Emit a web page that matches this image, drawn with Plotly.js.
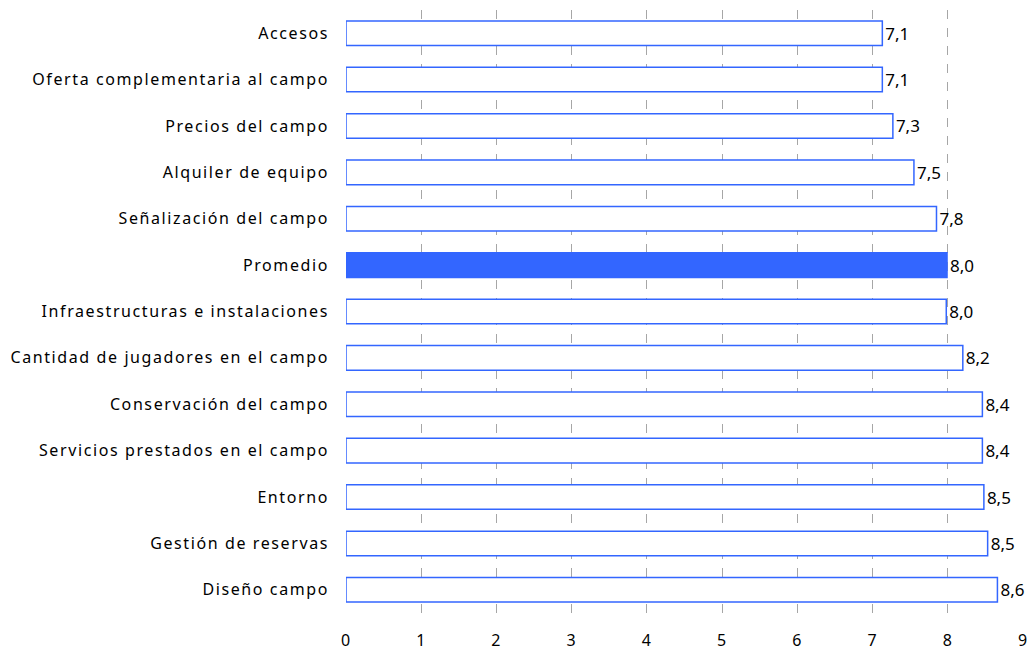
<!DOCTYPE html>
<html><head><meta charset="utf-8">
<script src="https://cdn.plot.ly/plotly-3.0.1.min.js"></script>
<style>html,body{margin:0;padding:0;background:#fff}#chart{width:1034px;height:657px}
#chart .ytick text{letter-spacing:1.6px}
#chart .xtick text{letter-spacing:1px}</style>
</head><body><div id="chart"></div>
<script>
const categories = ["Accesos","Oferta complementaria al campo","Precios del campo","Alquiler de equipo","Señalización del campo","Promedio","Infraestructuras e instalaciones","Cantidad de jugadores en el campo","Conservación del campo","Servicios prestados en el campo","Entorno","Gestión de reservas","Diseño campo"];
const values = [7.13,7.13,7.27,7.55,7.85,7.99,7.98,8.2,8.46,8.46,8.48,8.53,8.66];
const labels = ["7,1","7,1","7,3","7,5","7,8","8,0","8,0","8,2","8,4","8,4","8,5","8,5","8,6"];
const highlight = "Promedio";
const blue = "#3366FF";
const fills = categories.map(c => c === highlight ? blue : "#FFFFFF");
const font = "Noto Sans, sans-serif";
Plotly.newPlot("chart", [{
  type: "bar", orientation: "h", y: categories, x: values, text: labels,
  textposition: "outside", cliponaxis: false, width: 0.53,
  textfont: {family: font, size: 17, color: "#000"},
  marker: {color: fills, line: {color: blue, width: 1.5}},
  hoverinfo: "none"
}], {
  width: 1034, height: 657, margin: {l: 346, r: 11, t: 10, b: 44},
  paper_bgcolor: "#fff", plot_bgcolor: "#fff", showlegend: false,
  font: {family: font, size: 16, color: "#000"},
  xaxis: {range: [0, 9], dtick: 1, showgrid: true, gridcolor: "#A6A6A6", griddash: "dash", gridwidth: 1,
          zeroline: false, showline: false, ticks: "", ticklabelstandoff: 16, tickfont: {family: font, size: 16}},
  yaxis: {autorange: "reversed", showgrid: false, zeroline: false, showline: false, ticks: "", ticklabelstandoff: 16, tickfont: {family: font, size: 16}}
}, {staticPlot: true});
</script></body></html>
